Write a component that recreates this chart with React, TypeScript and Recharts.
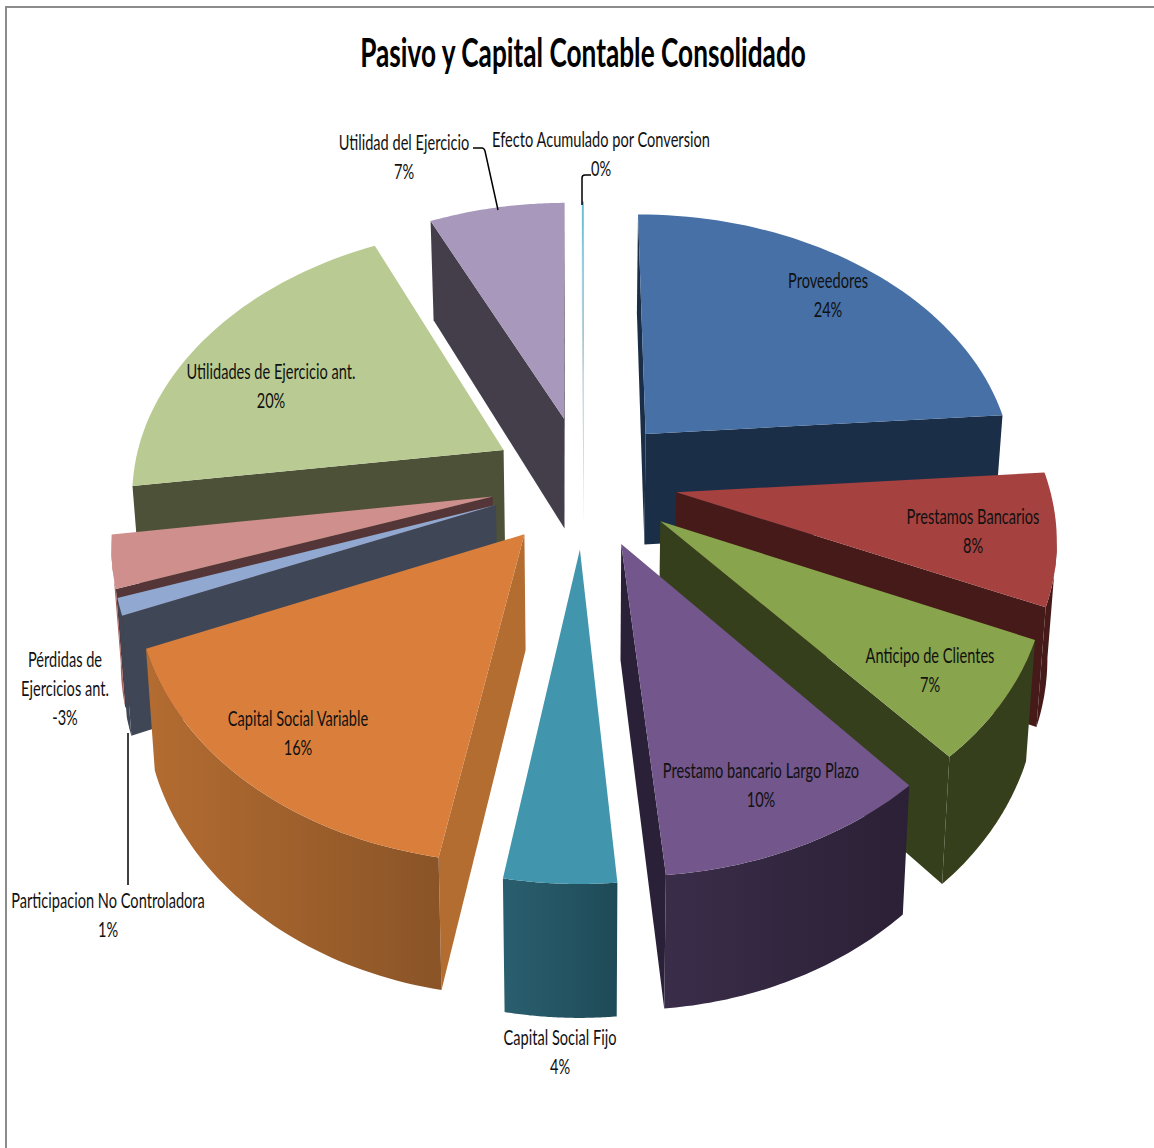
import React from 'react'
import { PieChart, Pie } from 'recharts'

const WIDTH = 1154
const HEIGHT = 1148

const categories = [
  'Proveedores',
  'Prestamos Bancarios',
  'Anticipo de Clientes',
  'Prestamo bancario Largo Plazo',
  'Capital Social Fijo',
  'Capital Social Variable',
  'Participacion No Controladora',
  'Pérdidas de Ejercicios ant.',
  'Utilidades de Ejercicio ant.',
  'Utilidad del Ejercicio',
  'Efecto Acumulado por Conversion',
]
const values = [23.8, 7.83, 7.05, 9.97, 4.03, 16, 1, -3.1, 20.2, 6.9, 0.1]

// top face, then wall colours (left and right end of the rounded wall)
const topColors = ['#4670a6', '#a5413f', '#88a44c', '#72568c', '#4195ad', '#d97f3b', '#91a8d0', '#cf8f8c', '#b9cb92', '#a898bc', '#6cc0d8']
const wallColors = ['#1b2e47', '#451a18', '#363f1c', '#2a2038', '#1f4a57', '#b36d30', '#3f4656', '#553638', '#4c5138', '#433e4a', '#b5cdd5']
const arcLeftColors = ['#1b2e47', '#451a18', '#363f1c', '#3a2d4a', '#2a5f6f', '#b36c31', '#3f4656', '#a5625f', '#4c5138', '#433e4a', '#b5cdd5']
const arcRightColors = ['#1b2e47', '#451a18', '#363f1c', '#2b2035', '#1f4a57', '#8a5427', '#3f4656', '#a5625f', '#4c5138', '#433e4a', '#b5cdd5']

// label centres: x, first baseline row, and the wrapped lines
const labelX = [828, 973, 930, 761, 560, 298, 108, 65, 271, 404, 601]
const labelY = [288, 524, 663, 778, 1045, 726, 908, 667, 379, 150, 147]
const labelLines = [
  ['Proveedores'],
  ['Prestamos Bancarios'],
  ['Anticipo de Clientes'],
  ['Prestamo bancario Largo Plazo'],
  ['Capital Social Fijo'],
  ['Capital Social Variable'],
  ['Participacion No Controladora'],
  ['Pérdidas de', 'Ejercicios ant.'],
  ['Utilidades de Ejercicio ant.'],
  ['Utilidad del Ejercicio'],
  ['Efecto Acumulado por Conversion'],
]
const leaders: Record<string, string> = {
  'Participacion No Controladora': 'M128 733V885',
  'Utilidad del Ejercicio': 'M473 148H482Q484 148 485 151L498 210',
  'Efecto Acumulado por Conversion': 'M582 205V178Q582 175 585 175H591',
}

const rows = categories.map((name, i) => ({
  name,
  value: values[i],
  size: Math.abs(values[i]),
  fill: topColors[i],
}))
const reversedRows = [...rows].reverse()

// perspective of the tilted plate
const CX = 584
const CY = 481
const RX = 372
const RY = 264
const TILT = 0.145
const THICK = 113
const EXPLODE = 0.25

type Pt = { x: number; y: number }

function project(u: number, v: number): Pt {
  const w = 1 - TILT * v
  return { x: CX + (RX * u) / w, y: CY + (RY * v) / w }
}

function drop(p: Pt, v: number): Pt {
  const w = 1 - TILT * v
  return { x: CX + (p.x - CX) * 0.98, y: p.y + THICK / Math.pow(w, 0.85) }
}

const toPath = (pts: Pt[]) => 'M' + pts.map((p) => `${p.x.toFixed(1)} ${p.y.toFixed(1)}`).join('L') + 'Z'

function Slice3D(props: any) {
  const i = categories.indexOf(props.name)
  const a0 = 90 - Math.max(props.startAngle, props.endAngle)
  const a1 = 90 - Math.min(props.startAngle, props.endAngle)
  const mid = ((a0 + a1) / 2) * (Math.PI / 180)
  const ou = EXPLODE * Math.sin(mid)
  const ov = -EXPLODE * Math.cos(mid)

  const steps = 48
  const arc: { top: Pt; bot: Pt }[] = []
  for (let s = 0; s <= steps; s++) {
    const a = (a0 + ((a1 - a0) * s) / steps) * (Math.PI / 180)
    const u = ou + Math.sin(a)
    const v = ov - Math.cos(a)
    const top = project(u, v)
    arc.push({ top, bot: drop(top, v) })
  }
  const apexTop = project(ou, ov)
  const apexBot = drop(apexTop, ov)
  const first = arc[0]
  const last = arc[steps]

  // only the faces turned to the viewer get painted
  const walls: string[] = []
  if (first.top.x < apexTop.x) walls.push(toPath([apexTop, first.top, first.bot, apexBot]))
  if (apexTop.x < last.top.x) walls.push(toPath([last.top, apexTop, apexBot, last.bot]))

  const front = arc.filter((p, s) => (s < steps && arc[s + 1].top.x < p.top.x) || (s > 0 && p.top.x < arc[s - 1].top.x))
  const gradId = `arc-wall-${i}`

  return (
    <g>
      <defs>
        <linearGradient id={gradId} x1="0" y1="0" x2="1" y2="0">
          <stop offset="0%" stopColor={arcLeftColors[i]} />
          <stop offset="100%" stopColor={arcRightColors[i]} />
        </linearGradient>
      </defs>
      {walls.map((d) => (
        <path key={d} d={d} fill={wallColors[i]} />
      ))}
      {front.length > 1 && (
        <path d={toPath([...front.map((p) => p.top), ...[...front].reverse().map((p) => p.bot)])} fill={`url(#${gradId})`} />
      )}
      <path d={toPath([apexTop, ...arc.map((p) => p.top)])} fill={topColors[i]} />
    </g>
  )
}

function SliceLabel(props: any) {
  const i = categories.indexOf(props.name)
  const lines = [...labelLines[i], `${Math.round(values[i])}%`]
  const path = leaders[categories[i]]
  return (
    <g>
      {path && <path d={path} fill="none" stroke="#000" strokeWidth={1.5} />}
      {lines.map((line, n) => (
        <text
          key={line}
          transform={`translate(${labelX[i]} ${labelY[i] + n * 29}) scale(0.695 1)`}
          textAnchor="middle"
          fontFamily="Lato"
          fontSize={21}
          fill="#111"
        >
          {line}
        </text>
      ))}
    </g>
  )
}

const isBackRight = (name: string) => categories.indexOf(name) < 5

// the two halves are painted in opposite order so nearer slices cover farther ones
const renderRight = (p: any) => (isBackRight(p.name) ? <Slice3D {...p} /> : <g />)
const renderLeft = (p: any) => (isBackRight(p.name) ? <g /> : <Slice3D {...p} />)
const labelRight = (p: any) => (isBackRight(p.name) ? <SliceLabel {...p} /> : <g />)
const labelLeft = (p: any) => (isBackRight(p.name) ? <g /> : <SliceLabel {...p} />)

export default function App() {
  return (
    <div style={{ position: 'absolute', left: 0, top: 0, width: WIDTH, height: HEIGHT, background: '#fff', overflow: 'hidden' }}>
      <div style={{ position: 'absolute', left: 5, top: 6, right: -4, bottom: -4, borderLeft: '2px solid #8c8c8c', borderTop: '2px solid #8c8c8c' }} />
      <PieChart width={WIDTH} height={HEIGHT} margin={{ top: 0, right: 0, bottom: 0, left: 0 }}>
        <text
          transform="translate(583 67) scale(0.656 1)"
          textAnchor="middle"
          fontFamily="Lato"
          fontWeight={700}
          fontSize={40}
          fill="#000"
        >
          Pasivo y Capital Contable Consolidado
        </text>
        <Pie
          data={rows}
          dataKey="size"
          nameKey="name"
          cx={CX}
          cy={CY}
          outerRadius={RX}
          startAngle={90}
          endAngle={-270}
          stroke="none"
          shape={renderRight}
          label={labelRight}
          labelLine={false}
          isAnimationActive={false}
        />
        <Pie
          data={reversedRows}
          dataKey="size"
          nameKey="name"
          cx={CX}
          cy={CY}
          outerRadius={RX}
          startAngle={-270}
          endAngle={90}
          stroke="none"
          shape={renderLeft}
          label={labelLeft}
          labelLine={false}
          isAnimationActive={false}
        />
      </PieChart>
    </div>
  )
}
